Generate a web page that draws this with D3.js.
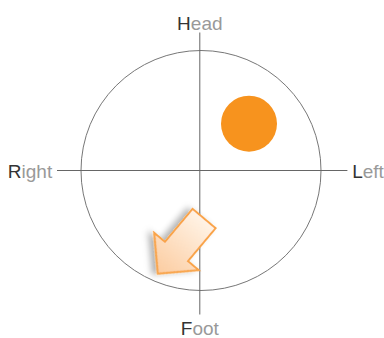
<!DOCTYPE html>
<meta charset='utf-8'>
<head>
<script src='https://d3js.org/d3.v7.min.js'></script>
<style>
  body{ margin: 0; background: #fff; }
  svg text{ font-family: 'Liberation Sans', Arial, sans-serif; font-size: 19px; }
</style>
</head>
<body>
<svg id="chart"></svg>
<script>
  // axis labels: name, direction (x, y in unit space)
  var labelNames = ['Head', 'Left', 'Foot', 'Right'];
  var labelDirX = [0, 1, 0, -1];
  var labelDirY = [1, 0, -1, 0];

  // marker (orange dot) position, unit space
  var dotX = [0.4];
  var dotY = [0.39];

  // arrow: tip position (unit space) and heading in degrees
  var arrowX = [-0.36];
  var arrowY = [-0.86];
  var arrowAngle = [130];

  var width = 384, height = 338,
      cx = 201, cy = 170.5, r = 120;

  var svg = d3.select('#chart')
      .attr('width', width)
      .attr('height', height);

  var x = d3.scaleLinear().domain([-1, 1]).range([cx - r, cx + r]);
  var y = d3.scaleLinear().domain([-1, 1]).range([cy + r, cy - r]);

  var defs = svg.append('defs');

  var grad = defs.append('linearGradient')
      .attr('id', 'arrowFill')
      .attr('x1', '0%').attr('y1', '0%')
      .attr('x2', '100%').attr('y2', '0%');
  grad.append('stop').attr('offset', '0%').attr('stop-color', '#fff3e6');
  grad.append('stop').attr('offset', '100%').attr('stop-color', '#fccca0');

  var shadow = defs.append('filter')
      .attr('id', 'shadow')
      .attr('x', '-50%').attr('y', '-50%')
      .attr('width', '200%').attr('height', '200%');
  shadow.append('feDropShadow')
      .attr('dx', 3).attr('dy', 4)
      .attr('stdDeviation', 3)
      .attr('flood-color', '#000')
      .attr('flood-opacity', 0.3);

  // circle
  svg.append('circle')
      .attr('cx', x(0)).attr('cy', y(0)).attr('r', x(1) - x(0))
      .attr('fill', 'none')
      .attr('stroke', '#777')
      .attr('stroke-width', 1);

  // cross hair
  svg.append('line')
      .attr('x1', x(-1.2)).attr('x2', x(1.22))
      .attr('y1', y(0)).attr('y2', y(0))
      .attr('stroke', '#666').attr('stroke-width', 1);
  svg.append('line')
      .attr('x1', x(-0.01)).attr('x2', x(-0.01))
      .attr('y1', y(1.15)).attr('y2', y(-1.2))
      .attr('stroke', '#666').attr('stroke-width', 1);

  // labels
  var labels = svg.selectAll('.axis-label')
      .data(labelNames)
      .enter().append('text')
      .attr('class', 'axis-label')
      .attr('x', function(d, i) {
        if (labelDirX[i] > 0) return x(1.26);
        if (labelDirX[i] < 0) return x(-1.24);
        return x(-0.01);
      })
      .attr('y', function(d, i) {
        if (labelDirY[i] > 0) return y(1.175);
        if (labelDirY[i] < 0) return y(-1.37);
        return y(0) + 7;
      })
      .attr('text-anchor', function(d, i) {
        if (labelDirX[i] > 0) return 'start';
        if (labelDirX[i] < 0) return 'end';
        return 'middle';
      });
  labels.append('tspan').attr('fill', '#333').text(function(d) { return d.charAt(0); });
  labels.append('tspan').attr('fill', '#999').text(function(d) { return d.slice(1); });

  // orange dot
  svg.selectAll('.dot')
      .data(dotX)
      .enter().append('circle')
      .attr('class', 'dot')
      .attr('cx', function(d) { return x(d); })
      .attr('cy', function(d, i) { return y(dotY[i]); })
      .attr('r', 28)
      .attr('fill', '#f7931e');

  // arrow (tip at origin, pointing along +x)
  var arrowShape = [[0,0],[-29,-29],[-29,-15],[-72,-15],[-72,15],[-29,15],[-29,29]];

  svg.selectAll('.arrow')
      .data(arrowX)
      .enter().append('path')
      .attr('class', 'arrow')
      .attr('d', d3.line()(arrowShape) + 'Z')
      .attr('transform', function(d, i) {
        return 'translate(' + x(d) + ',' + y(arrowY[i]) + ') rotate(' + arrowAngle[i] + ')';
      })
      .attr('fill', 'url(#arrowFill)')
      .attr('stroke', '#f9a44a')
      .attr('stroke-width', 2)
      .attr('stroke-linejoin', 'miter')
      .attr('filter', 'url(#shadow)');
</script>
</body>
</html>
